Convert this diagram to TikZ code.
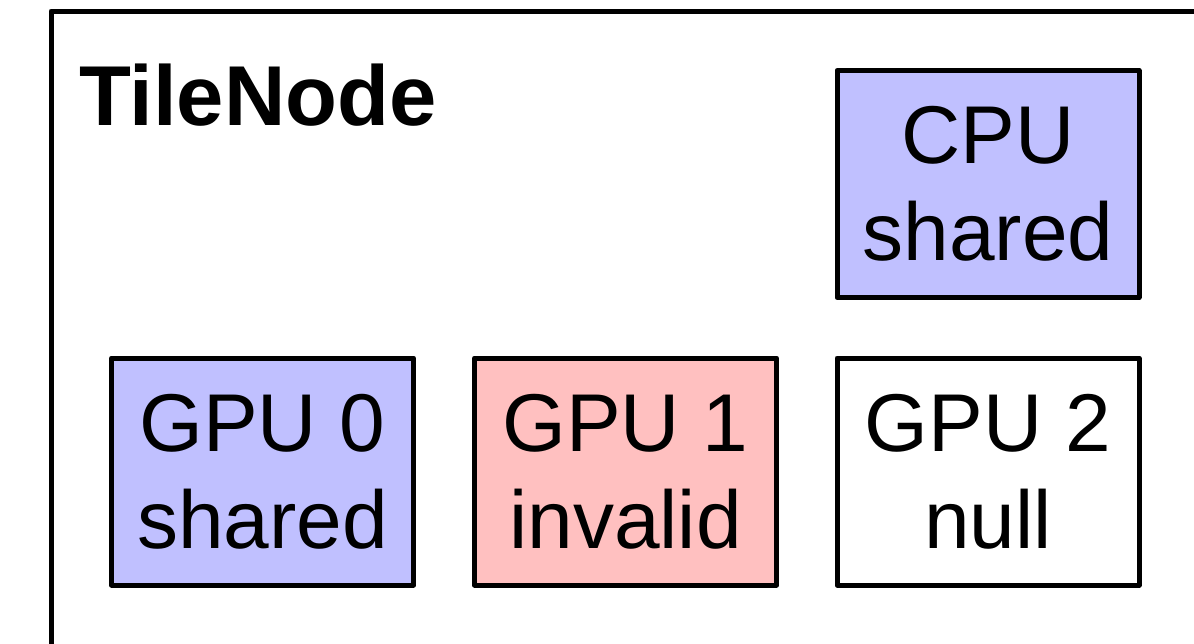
\documentclass[tikz,border=0pt]{standalone}
\usepackage{fontspec}
\setmainfont{Liberation Sans}
\definecolor{sharedblue}{HTML}{C0C0FF}
\definecolor{invalidred}{HTML}{FFC0C0}
\begin{document}
\begin{tikzpicture}[x=1pt,y=-1pt,
  unit/.style={draw=black, line width=5pt, line join=round, rectangle,
    minimum width=302pt, minimum height=227pt, inner sep=0pt,
    align=center, font=\fontsize{82}{97}\selectfont},
  title/.style={font=\fontsize{85}{100}\selectfont\bfseries, inner sep=0pt, anchor=base west}]
  \useasboundingbox (0,0) rectangle (1194,643);
  \clip (0,0) rectangle (1194,643);
  % enclosing tile node frame
  \draw[line width=5pt, line join=round] (51,11) rectangle (1260,700);
  \node[title] (tname) at (79,125) {TileNode};
  % memory locations and their states
  \node[unit, fill=sharedblue] (cpu) at (988,184) {CPU\\shared};
  \node[unit, fill=sharedblue] (gpu0) at (262.5,471.5) {GPU 0\\shared};
  \node[unit, fill=invalidred] (gpu1) at (625.5,471.5) {GPU 1\\invalid};
  \node[unit, fill=white] (gpu2) at (988,471.5) {GPU 2\\null};
\end{tikzpicture}
\end{document}
